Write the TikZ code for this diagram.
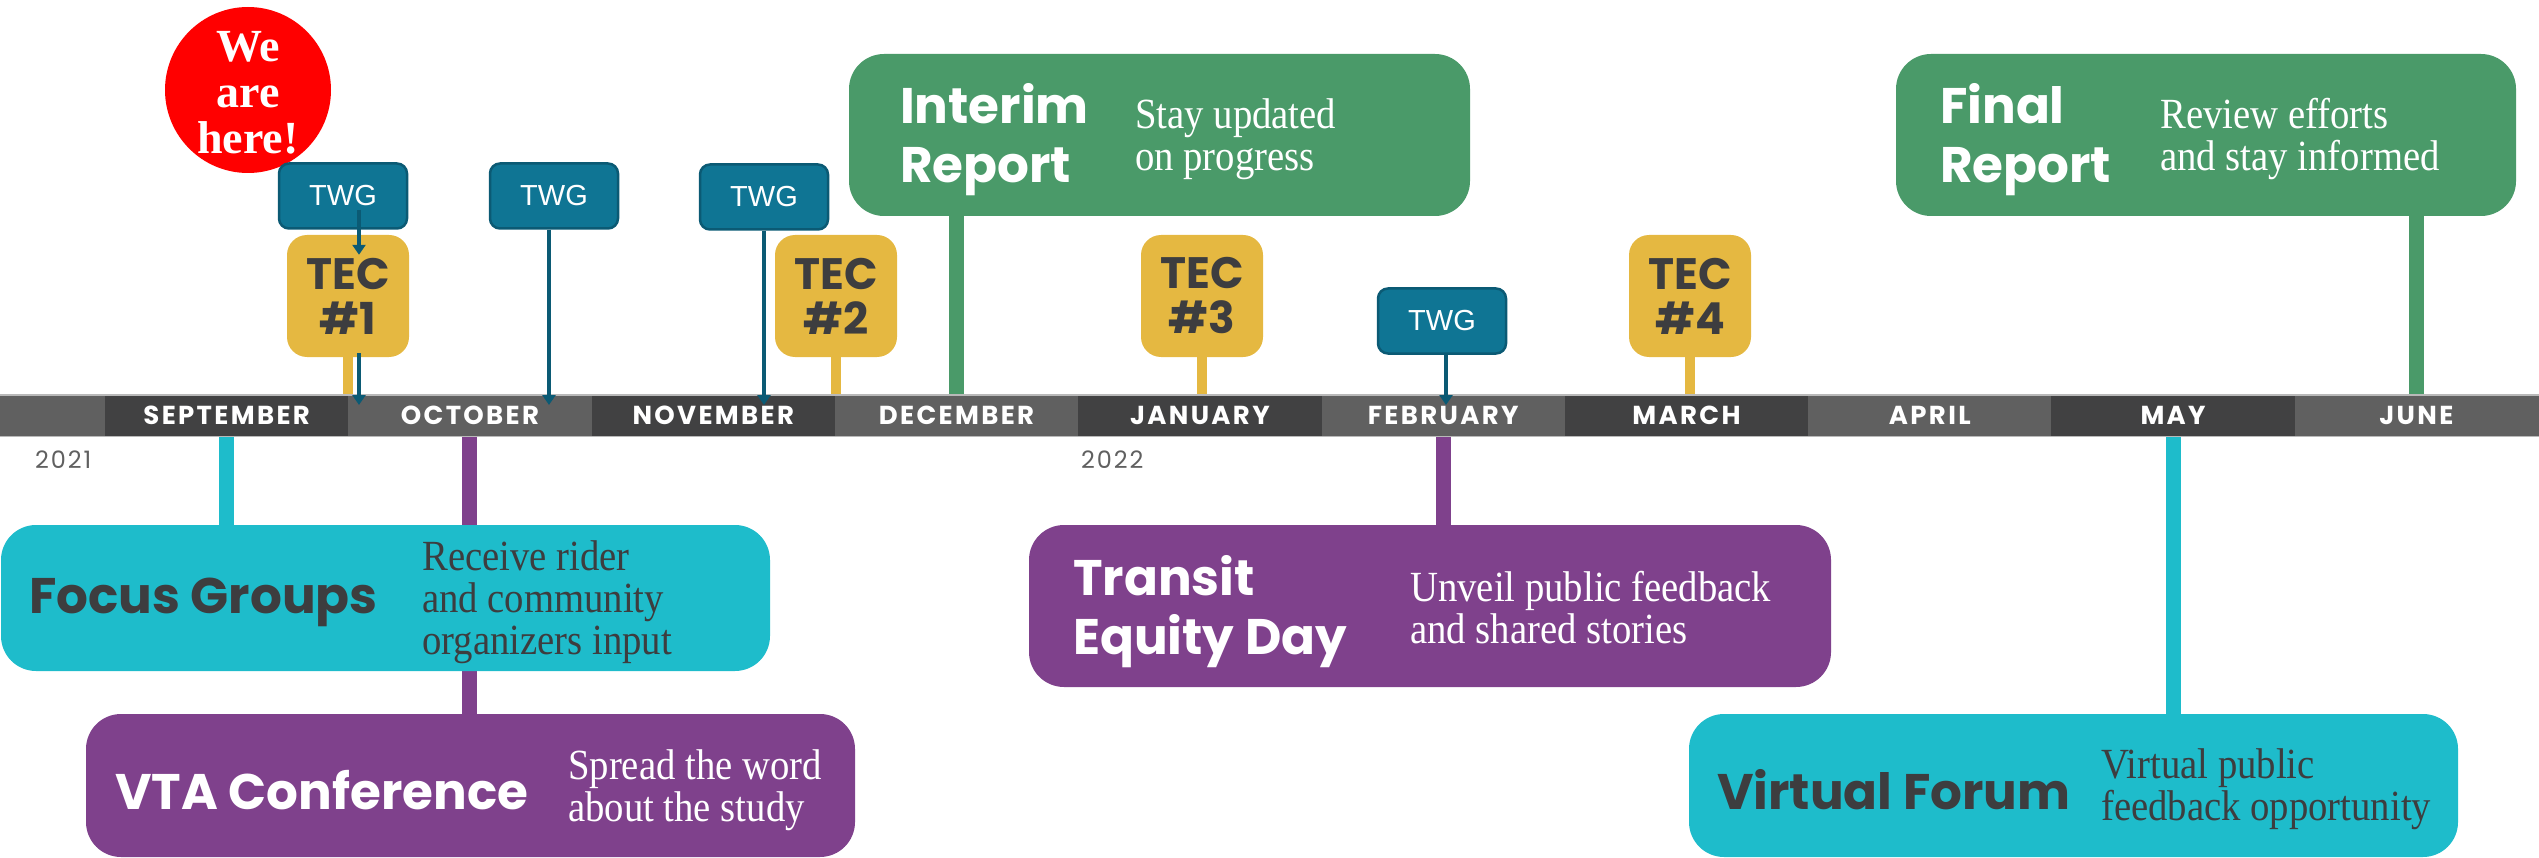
\documentclass[tikz,border=0pt]{standalone}
\usepackage{fontspec}
\setmainfont{Liberation Serif}[FakeStretch=0.9]
\newfontfamily\herefont{Liberation Serif}
\newfontfamily\headfont{Poppins}
\newfontfamily\monthfont{Poppins}[LetterSpace=9]
\newfontfamily\yearfont{Poppins}[LetterSpace=8]
\newfontfamily\twgfont{Liberation Sans}
\usetikzlibrary{arrows.meta,backgrounds}

\definecolor{bardark}{HTML}{414142}
\definecolor{barlight}{HTML}{606060}
\definecolor{twgblue}{HTML}{0F7594}
\definecolor{twgedge}{HTML}{0B5A74}
\definecolor{tecyellow}{HTML}{E5B841}
\definecolor{reportgreen}{HTML}{4A9A69}
\definecolor{groupcyan}{HTML}{1EBCCB}
\definecolor{eventpurple}{HTML}{7F418C}
\definecolor{inkgray}{HTML}{3D3D3F}
\definecolor{yeargray}{HTML}{606060}

\tikzset{
  monthseg/.style={fill=#1, minimum width=243.3pt, minimum height=41pt, inner sep=0pt,
    text=white, font=\monthfont\bfseries\fontsize{26}{26}\selectfont},
  twgbox/.style={fill=twgblue, draw=twgedge, line width=2.5pt, rounded corners=10pt,
    minimum width=128pt, minimum height=65pt, inner sep=0pt, text=white,
    font=\twgfont\fontsize{29}{29}\selectfont},
  tecbox/.style={fill=tecyellow, rounded corners=20pt, minimum width=122pt, minimum height=122pt,
    inner sep=0pt, align=center, text=inkgray, font=\headfont\bfseries\fontsize{44}{45}\selectfont},
  milestone/.style={fill=#1, rounded corners=35pt, inner sep=0pt},
  headtxt/.style={anchor=west, inner sep=0pt, align=left, text=#1,
    font=\headfont\bfseries\fontsize{50}{59}\selectfont},
  notetxt/.style={anchor=west, inner sep=0pt, align=left, text=#1,
    font=\fontsize{43}{42}\selectfont},
  stem/.style={draw=#1, line width=15pt},
  tecstem/.style={draw=tecyellow, line width=10pt},
  twgarrow/.style={draw=twgedge, line width=4pt, -{Triangle[length=10pt,width=13pt]}},
  yeartxt/.style={anchor=west, inner sep=0pt, text=yeargray, font=\yearfont\fontsize{24}{24}\selectfont}
}

\begin{document}
\begin{tikzpicture}[x=1pt, y=-1pt]
\useasboundingbox (0,0) rectangle (2539,858);

\node [fill=barlight, minimum width=2539pt, minimum height=41pt, inner sep=0pt, anchor=north west] (bar) at (0,395) {};
\foreach \name/\shade [count=\i from 0] in {SEPTEMBER/bardark, OCTOBER/barlight, NOVEMBER/bardark,
    DECEMBER/barlight, JANUARY/bardark, FEBRUARY/barlight, MARCH/bardark, APRIL/barlight,
    MAY/bardark, JUNE/barlight}
  \node [monthseg=\shade] (m\i) at ({226.65+243.3*\i},415.5) {\name};
\draw [gray!55, line width=1.5pt] (bar.north west) -- (bar.north east);
\draw [gray!55, line width=1.5pt] (bar.south west) -- (bar.south east);

\node [yeartxt] (y2021) at (35,460) {2021};
\node [yeartxt] (y2022) at (1081,460) {2022};

\node [circle, fill=red, minimum size=166pt, inner sep=0pt] (here) at (248,90) {};
\node [align=center, text=white, inner sep=0pt, font=\herefont\bfseries\fontsize{46}{46}\selectfont] (heretxt) at ([yshift=-3pt]here.center) {We\\are\\here!};

\node [milestone=reportgreen, minimum width=621pt, minimum height=162pt] (interim) at (1159.5,135) {};
\node [headtxt=white] (interimhd) at (900,140) {Interim\\Report};
\node [notetxt=white] (interimtx) at (1135,139) {Stay updated\\on progress};

\node [milestone=reportgreen, minimum width=620pt, minimum height=162pt] (final) at (2206,135) {};
\node [headtxt=white] (finalhd) at (1940,140) {Final\\Report};
\node [notetxt=white] (finaltx) at (2160,139) {Review efforts\\and stay informed};

\node [milestone=groupcyan, minimum width=769pt, minimum height=146pt] (focus) at (385.5,598) {};
\node [headtxt=inkgray] (focushd) at (29,602) {Focus Groups};
\node [notetxt=inkgray] (focustx) at (422,602) {Receive rider\\and community\\organizers input};

\node [milestone=eventpurple, minimum width=769pt, minimum height=143pt] (vta) at (470.5,785.5) {};
\node [headtxt=white] (vtahd) at (115,790) {VTA Conference};
\node [notetxt=white] (vtatx) at (568,790) {Spread the word\\about the study};

\node [milestone=eventpurple, minimum width=802pt, minimum height=162pt] (transit) at (1430,606) {};
\node [headtxt=white] (transithd) at (1073,612) {Transit\\Equity Day};
\node [notetxt=white] (transittx) at (1410,608) {Unveil public feedback\\and shared stories};

\node [milestone=groupcyan, minimum width=769pt, minimum height=143pt] (virtual) at (2073.5,785.5) {};
\node [headtxt=inkgray] (virtualhd) at (1717,790) {Virtual Forum};
\node [notetxt=inkgray] (virtualtx) at (2101,789) {Virtual public\\feedback opportunity};

\node [twgbox] (twg1) at (343,196) {TWG};
\node [twgbox] (twg2) at (554,196) {TWG};
\node [twgbox] (twg3) at (764,197) {TWG};
\node [twgbox] (twg4) at (1442,321) {TWG};

\node [tecbox] (tec1) at (348,296) {TEC\\\#1};
\node [tecbox] (tec2) at (836,296) {TEC\\\#2};
\node [tecbox] (tec3) at (1202,296) {TEC\\\#3};
\node [tecbox] (tec4) at (1690,296) {TEC\\\#4};

\begin{scope}[on background layer]
\draw [stem=reportgreen] (interim.south -| m3) -- (m3.north);
\draw [stem=reportgreen] (final.south -| m9) -- (m9.north);
\draw [stem=groupcyan] (m0.south) -- (focus.north -| m0);
\draw [stem=eventpurple] (m1.south) -- (vta.north -| m1);
\draw [stem=eventpurple] (m5.south) -- (transit.north -| m5);
\draw [stem=groupcyan] (m8.south) -- (virtual.north -| m8);
\draw [tecstem] (tec1.south) -- (tec1 |- bar.north);
\draw [tecstem] (tec2.south) -- (tec2 |- bar.north);
\draw [tecstem] (tec3.south) -- (tec3 |- bar.north);
\draw [tecstem] (tec4.south) -- (tec4 |- bar.north);
\end{scope}

\draw [twgarrow] ([xshift=16pt,yshift=-14pt]twg1.center) -- ([xshift=11pt,yshift=-20pt]tec1.north);
\draw [twgarrow] ([xshift=11pt,yshift=4pt]tec1.south) -- ([xshift=11pt,yshift=-10pt]tec1 |- bar.north);
\draw [twgarrow] ([xshift=-5pt]twg2.south) -- ([xshift=-5pt,yshift=-10pt]twg2 |- bar.north);
\draw [twgarrow] (twg3.south) -- ([yshift=-10pt]twg3 |- bar.north);
\draw [twgarrow] ([xshift=4pt]twg4.south) -- ([xshift=4pt,yshift=-10pt]twg4 |- bar.north);
\end{tikzpicture}
\end{document}
